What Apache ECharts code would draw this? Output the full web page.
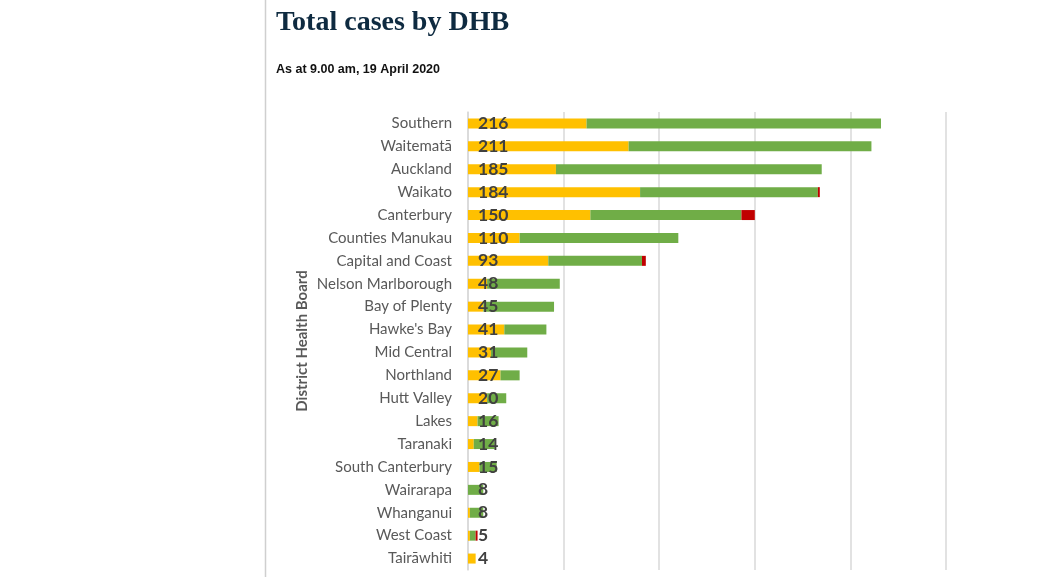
<!DOCTYPE html>
<html>
<head>
<meta charset="utf-8">
<script src="https://cdn.jsdelivr.net/npm/echarts@6/dist/echarts.min.js"></script>
<style>
html,body{margin:0;padding:0;background:#fff;}
#chart{width:1052px;height:577px;}
</style>
</head>
<body>
<div id="chart"></div>
<script>
const categories = ["Southern","Waitematā","Auckland","Waikato","Canterbury","Counties Manukau","Capital and Coast","Nelson Marlborough","Bay of Plenty","Hawke's Bay","Mid Central","Northland","Hutt Valley","Lakes","Taranaki","South Canterbury","Wairarapa","Whanganui","West Coast","Tairāwhiti"];
const active    = [62, 84, 46, 90, 64, 27, 42, 10, 8, 19, 12, 17, 10, 5, 3, 6, 0, 1, 1, 4];
const recovered = [154, 127, 139, 93, 79, 83, 49, 38, 37, 22, 19, 10, 10, 11, 11, 9, 8, 7, 3, 0];
const deceased  = [0, 0, 0, 1, 7, 0, 2, 0, 0, 0, 0, 0, 0, 0, 0, 0, 0, 0, 1, 0];
const totals    = [216, 211, 185, 184, 150, 110, 93, 48, 45, 41, 31, 27, 20, 16, 14, 15, 8, 8, 5, 4];
const xTicks = [0, 50, 100, 150, 200, 250];

const chart = echarts.init(document.getElementById('chart'));
const barW = 10;
chart.setOption({
  animation: false,
  backgroundColor: '#ffffff',
  title: [
    {text: 'Total cases by DHB', left: 276, top: 9, padding: 0,
     textStyle: {fontFamily: 'Liberation Serif', fontWeight: 'bold', fontSize: 28, color: '#0e2a40'}},
    {text: 'As at 9.00 am, 19 April 2020', left: 276, top: 63, padding: 0,
     textStyle: {fontFamily: 'Liberation Sans', fontWeight: 'bold', fontSize: 12.5, color: '#111111'}}
  ],
  graphic: [
    {type: 'line', shape: {x1: 265.5, y1: 0, x2: 265.5, y2: 577}, style: {stroke: '#cfcfcf', lineWidth: 1.5}, silent: true}
  ],
  grid: {left: 468, right: 106, top: 112, bottom: 7, containLabel: false},
  xAxis: {
    type: 'value', min: xTicks[0], max: xTicks[xTicks.length - 1], interval: 50,
    axisLabel: {show: false}, axisLine: {show: false}, axisTick: {show: false},
    splitLine: {show: true, lineStyle: {color: '#d9d9d9', width: 1.5}}
  },
  yAxis: {
    type: 'category', data: categories, inverse: true,
    axisLine: {show: true, lineStyle: {color: '#d9d9d9', width: 1.5}},
    axisTick: {show: false},
    axisLabel: {fontFamily: 'Lato', fontSize: 15, color: '#595959', margin: 16},
    name: 'District Health Board', nameLocation: 'middle', nameGap: 158,
    nameTextStyle: {fontFamily: 'Lato', fontWeight: 'bold', fontSize: 15, color: '#595959'}
  },
  series: [
    {name: 'Active', type: 'bar', stack: 'c', data: active, barWidth: barW,
     itemStyle: {color: '#FFC000'}},
    {name: 'Recovered', type: 'bar', stack: 'c', data: recovered, barWidth: barW,
     itemStyle: {color: '#70AD47'}},
    {name: 'Deceased', type: 'bar', stack: 'c', data: deceased, barWidth: barW,
     itemStyle: {color: '#C00000'}},
    {name: 'Total', type: 'bar', data: totals, barWidth: barW, barGap: '-100%', z: 10,
     itemStyle: {color: 'rgba(0,0,0,0)'},
     label: {show: true, position: [10, '50%'], align: 'left', verticalAlign: 'middle',
       fontFamily: 'Lato', fontWeight: 'bold', fontSize: 17.5, color: '#404040',
       formatter: p => String(p.value)}}
  ]
});
</script>
</body>
</html>
